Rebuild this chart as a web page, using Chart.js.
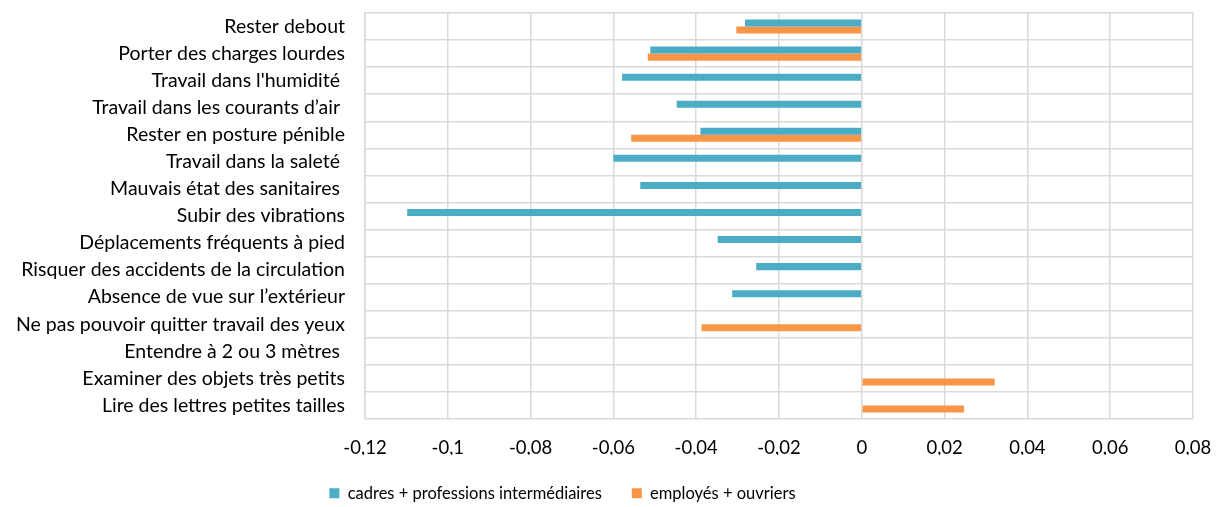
<!DOCTYPE html>
<html>
<head>
<meta charset="utf-8">
<script src="https://cdn.jsdelivr.net/npm/chart.js@4/dist/chart.umd.min.js"></script>
<style>
    body { margin: 0; background: #fff; }
    #wrap { width: 1220px; height: 507px; }
</style>
</head>
<body>
<div id="wrap"><canvas id="chart" width="1220" height="507"></canvas></div>
<script>
    // categories (top to bottom)
    var categories = [
        "Rester debout",
        "Porter des charges lourdes",
        "Travail dans l'humidité ",
        "Travail dans les courants d\u2019air ",
        "Rester en posture pénible",
        "Travail dans la saleté ",
        "Mauvais état des sanitaires ",
        "Subir des vibrations",
        "Déplacements fréquents à pied",
        "Risquer des accidents de la circulation",
        "Absence de vue sur l\u2019extérieur",
        "Ne pas pouvoir quitter travail des yeux",
        "Entendre à 2 ou 3 mètres ",
        "Examiner des objets très petits",
        "Lire des lettres petites tailles"
    ];
    var cadres = [-0.0282, -0.0511, -0.0579, -0.0447, -0.0390, -0.0600, -0.0535, -0.1098, -0.0348, -0.0255, -0.0313, null, null, null, null];
    var employes = [-0.0303, -0.0517, null, null, -0.0557, null, null, null, null, null, null, -0.0387, null, 0.0321, 0.0247];
    var seriesNames = ["cadres + professions intermédiaires", "employés + ouvriers"];
    var xMin = -0.12, xMax = 0.08, xStep = 0.02;

    // legend: fixed height, shifted left like the original
    var legendTweak = {
        id: "legendTweak",
        afterInit: function (chart) {
            var lg = chart.legend;
            var fit = lg.fit;
            lg.fit = function () {
                fit.call(this);
                this.height = 52;
            };
        },
        afterLayout: function (chart) {
            chart.legend.left -= 34;
            chart.legend.right -= 34;
        }
    };

    var ctx = document.getElementById("chart").getContext("2d");
    new Chart(ctx, {
        type: "bar",
        data: {
            labels: categories,
            datasets: [
                { label: seriesNames[0], data: cadres, backgroundColor: "#4BACC6", borderWidth: 0,
                  barPercentage: 1, categoryPercentage: 0.52 },
                { label: seriesNames[1], data: employes, backgroundColor: "#F79646", borderWidth: 0,
                  barPercentage: 1, categoryPercentage: 0.52 }
            ]
        },
        plugins: [legendTweak],
        options: {
            indexAxis: "y",
            responsive: false,
            animation: false,
            layout: { padding: { top: 13, right: 27, left: 0, bottom: 0 } },
            scales: {
                x: {
                    min: xMin, max: xMax,
                    afterFit: function (scale) {
                        scale.height = 36;
                        scale.paddingLeft = 0;
                        scale.paddingRight = 0;
                    },
                    ticks: {
                        stepSize: xStep,
                        color: "#000",
                        padding: 18,
                        maxRotation: 0,
                        font: { family: "Lato", size: 18.5 },
                        callback: function (v) {
                            return parseFloat(Number(v).toFixed(2)).toString().replace(".", ",");
                        }
                    },
                    grid: { color: "#d9d9d9", lineWidth: 1.5, drawTicks: false },
                    border: { display: false }
                },
                y: {
                    afterFit: function (scale) {
                        scale.width = 365;
                        scale.paddingTop = 0;
                        scale.paddingBottom = 0;
                    },
                    ticks: {
                        color: "#000",
                        padding: 20,
                        font: { family: "Lato", size: 19.5 }
                    },
                    grid: { color: "#d9d9d9", lineWidth: 1.5, drawTicks: false, offset: true },
                    border: { color: "#d9d9d9", width: 1.5 }
                }
            },
            plugins: {
                legend: {
                    position: "bottom",
                    labels: {
                        boxWidth: 10, boxHeight: 10, padding: 30,
                        color: "#000",
                        font: { family: "Lato", size: 16.5 }
                    }
                },
                tooltip: { enabled: false }
            }
        }
    });
</script>
</body>
</html>
